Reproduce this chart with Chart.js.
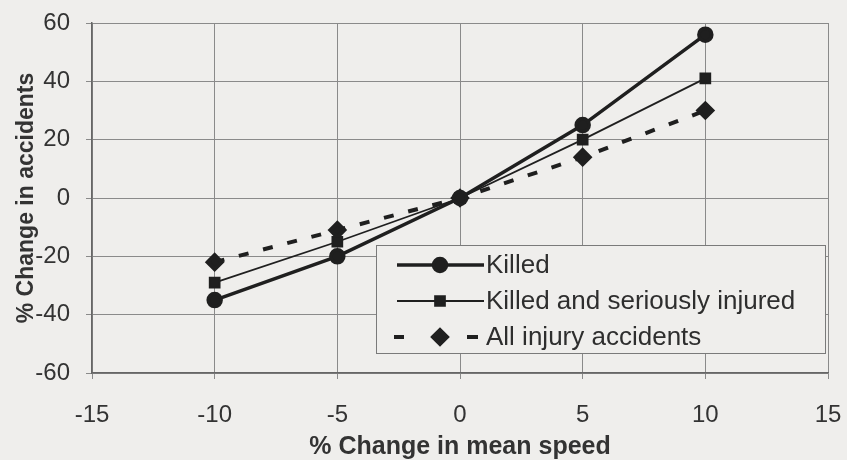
<!DOCTYPE html>
<html>
<head>
<meta charset="utf-8">
<script src="https://cdn.jsdelivr.net/npm/chart.js@4.4.1/dist/chart.umd.min.js"></script>
<style>
  html, body { margin: 0; padding: 0; background: #efeeec; }
  #wrap { width: 847px; height: 460px; }
</style>
</head>
<body>
<div id="wrap"><canvas id="chart" width="847" height="460"></canvas></div>
<script>
// speed change (%) on x
const speedChange = [-10, -5, 0, 5, 10];
// accident change (%) for each series
const killed = [-35, -20, 0, 25, 56];
const killedSerious = [-29, -15, 0, 20, 41];
const allInjury = [-22, -11, 0, 14, 30];

const seriesNames = ['Killed', 'Killed and seriously injured', 'All injury accidents'];

const ink = '#1f1f1f';
const fontFam = '"Liberation Sans", Arial, sans-serif';

function toPoints(vals) {
    return speedChange.map((x, i) => ({ x: x, y: vals[i] }));
}

// legend box drawn inside the plot, like the original
const boxLegend = {
    id: 'boxLegend',
    afterDatasetsDraw(chart) {
        const ctx = chart.ctx;
        const x0 = 376, y0 = 245, w = 449, h = 108;
        ctx.save();
        ctx.fillStyle = '#efeeec';
        ctx.fillRect(x0, y0, w, h);
        ctx.strokeStyle = '#7a7a7a';
        ctx.lineWidth = 1;
        ctx.strokeRect(x0 + 0.5, y0 + 0.5, w, h);
        ctx.font = '26px ' + fontFam;
        ctx.textBaseline = 'middle';
        const rows = [265, 301, 337];
        chart.data.datasets.forEach((ds, i) => {
            const y = rows[i];
            ctx.strokeStyle = ink;
            ctx.fillStyle = ink;
            ctx.lineWidth = ds.borderWidth;
            ctx.beginPath();
            if (ds.borderDash) {
                ctx.moveTo(394, y); ctx.lineTo(404, y);
                ctx.moveTo(467, y); ctx.lineTo(478, y);
            } else {
                ctx.moveTo(397, y); ctx.lineTo(484, y);
            }
            ctx.stroke();
            Chart.helpers.drawPoint(ctx, {
                pointStyle: ds.pointStyle, radius: ds.pointRadius, borderWidth: 1
            }, 440, y);
            ctx.fillStyle = '#2e2e2e';
            ctx.fillText(ds.label, 486, y + 1);
        });
        ctx.restore();
    }
};

new Chart(document.getElementById('chart'), {
    type: 'line',
    data: {
        datasets: [{
            label: seriesNames[0],
            data: toPoints(killed),
            borderColor: ink,
            backgroundColor: ink,
            borderWidth: 3.5,
            pointStyle: 'circle',
            pointRadius: 6.5
        }, {
            label: seriesNames[1],
            data: toPoints(killedSerious),
            borderColor: ink,
            backgroundColor: ink,
            borderWidth: 1.8,
            pointStyle: 'rect',
            pointRadius: 7
        }, {
            label: seriesNames[2],
            data: toPoints(allInjury),
            borderColor: ink,
            backgroundColor: ink,
            borderWidth: 4,
            borderDash: [10, 15],
            pointStyle: 'rectRot',
            pointRadius: 7
        }]
    },
    options: {
        responsive: false,
        animation: false,
        layout: { padding: { top: 23, right: 19, left: 0, bottom: 0 } },
        plugins: {
            legend: { display: false },
            tooltip: { enabled: false }
        },
        scales: {
            x: {
                type: 'linear',
                min: -15,
                max: 15,
                ticks: {
                    stepSize: 5,
                    color: '#333',
                    padding: 22,
                    font: { family: fontFam, size: 24 }
                },
                grid: { color: '#8a8a8a', lineWidth: 1, tickLength: 6 },
                border: { color: '#666', width: 1.5 },
                title: {
                    display: true,
                    text: '% Change in mean speed',
                    color: '#333',
                    padding: { top: 0, bottom: -2 },
                    font: { family: fontFam, size: 25, weight: 'bold' }
                },
                afterFit(s) {
                    s.height = 87;
                    s.paddingLeft = 0;
                    s.paddingRight = 0;
                }
            },
            y: {
                min: -60,
                max: 60,
                ticks: {
                    stepSize: 20,
                    color: '#333',
                    padding: 16,
                    font: { family: fontFam, size: 24 }
                },
                grid: { color: '#8a8a8a', lineWidth: 1, tickLength: 6 },
                border: { color: '#666', width: 1.5 },
                title: {
                    display: true,
                    text: '% Change in accidents',
                    color: '#333',
                    padding: { top: 13, bottom: 0 },
                    font: { family: fontFam, size: 23, weight: 'bold' }
                },
                afterFit(s) {
                    s.width = 92;
                    s.paddingTop = 0;
                    s.paddingBottom = 0;
                }
            }
        }
    },
    plugins: [boxLegend]
});
</script>
</body>
</html>
